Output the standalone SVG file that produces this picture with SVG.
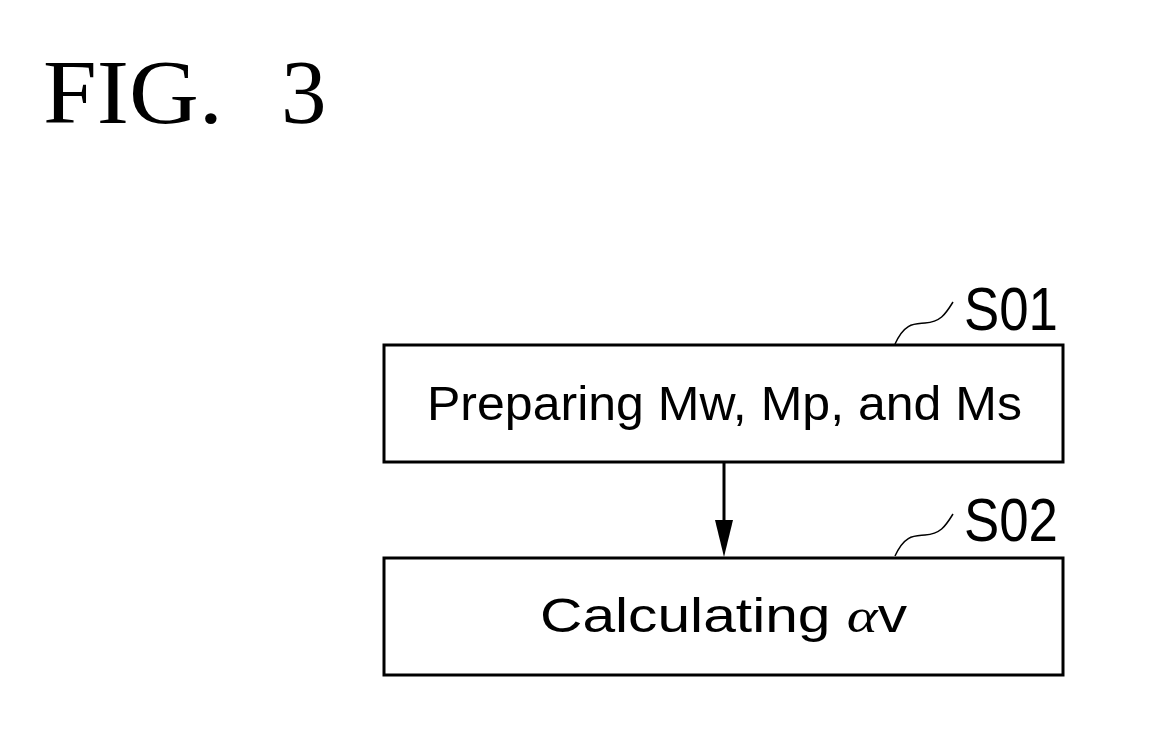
<svg xmlns="http://www.w3.org/2000/svg" width="1168" height="739" viewBox="0 0 1168 739">
<style>
.box{fill:#fff;stroke:#000;stroke-width:3}
.lbl{font-family:"Liberation Sans",Arial,sans-serif;font-size:49px;fill:#000}
.step{font-family:"Liberation Sans",Arial,sans-serif;font-size:62px;fill:#000}
.fig{font-family:"Liberation Serif","Times New Roman",serif;font-size:91px;fill:#000}
.lead{fill:none;stroke:#000;stroke-width:1.5}
.conn{stroke:#000;stroke-width:3;fill:none}
</style>
<rect width="1168" height="739" fill="#fff"/>
<text class="fig" x="43" y="123" textLength="180" lengthAdjust="spacingAndGlyphs">FIG.</text>
<text class="fig" x="281" y="123">3</text>
<g id="S01">
<rect class="box" x="384" y="345" width="679" height="117"/>
<text class="lbl" x="427" y="420" textLength="595" lengthAdjust="spacingAndGlyphs">Preparing Mw, Mp, and Ms</text>
<path class="lead" d="M895,344 C905,322 915,324 925,323 C940,322 945,315 953,302"/>
<text class="step" x="964" y="330" textLength="94" lengthAdjust="spacingAndGlyphs">S01</text>
</g>
<g id="S02">
<rect class="box" x="384" y="558" width="679" height="117"/>
<text class="lbl" x="540" y="632" textLength="367" lengthAdjust="spacingAndGlyphs">Calculating <tspan font-family="'Liberation Serif',serif" font-style="italic">α</tspan>v</text>
<path class="lead" d="M895,556 C905,534 915,536 925,535 C940,534 945,527 953,514"/>
<text class="step" x="964" y="541" textLength="94" lengthAdjust="spacingAndGlyphs">S02</text>
</g>
<g id="connectors">
<line class="conn" x1="724" y1="462" x2="724" y2="520"/>
<path d="M715,520 L733,520 L724,557 Z" fill="#000"/>
</g>
</svg>
